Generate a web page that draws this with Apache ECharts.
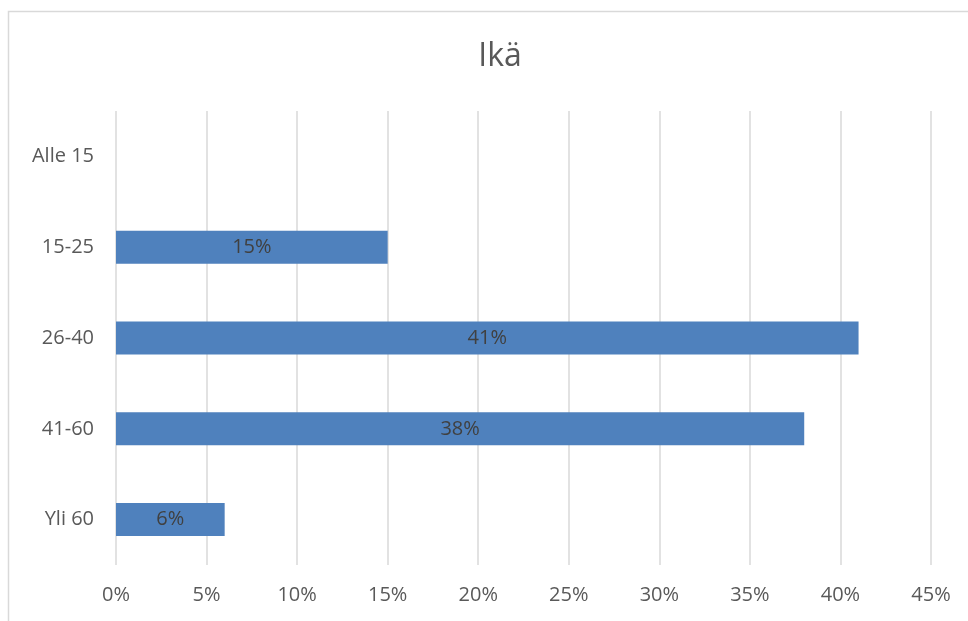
<!DOCTYPE html>
<html><head><meta charset="utf-8">
<script src="https://cdn.jsdelivr.net/npm/echarts@6/dist/echarts.min.js"></script>
<style>html,body{margin:0;padding:0;background:#fff}#c{width:968px;height:621px}</style>
</head><body><div id="c"></div>
<script>
const title = 'Ikä';
const categories = ['Alle 15', '15-25', '26-40', '41-60', 'Yli 60'];
const values = [0, 15, 41, 38, 6];
const xTicks = [0, 5, 10, 15, 20, 25, 30, 35, 40, 45];

const font = '"Open Sans", "Noto Sans", sans-serif';
const chart = echarts.init(document.getElementById('c'), null, {renderer: 'canvas'});
chart.setOption({
  animation: false,
  backgroundColor: '#fff',
  graphic: [{
    type: 'rect', silent: true,
    shape: {x: 8.5, y: 11.5, width: 1000, height: 700},
    style: {fill: 'none', stroke: '#d9d9d9', lineWidth: 1.5}
  }],
  title: {
    text: title, left: 495, top: 36, textAlign: 'center',
    textStyle: {fontFamily: font, fontSize: 32, fontWeight: 'normal', color: '#595959'}
  },
  grid: {left: 116, right: 37, top: 111, bottom: 56, containLabel: false},
  xAxis: {
    type: 'value', min: xTicks[0], max: xTicks[xTicks.length - 1], interval: 5,
    axisLine: {show: false}, axisTick: {show: false},
    splitLine: {lineStyle: {color: '#d9d9d9', width: 1.5}},
    axisLabel: {formatter: v => v + '%', fontFamily: font, fontSize: 20, color: '#595959', margin: 20}
  },
  yAxis: {
    type: 'category', data: categories, inverse: true,
    axisLine: {show: false}, axisTick: {show: false}, splitLine: {show: false},
    axisLabel: {fontFamily: font, fontSize: 20, color: '#595959', margin: 22}
  },
  series: [{
    type: 'bar', data: values, barWidth: 33,
    itemStyle: {color: '#4f81bd'},
    label: {
      show: true, position: 'inside',
      formatter: p => p.value ? p.value + '%' : '',
      fontFamily: font, fontSize: 20, color: '#404040'
    }
  }]
});
</script></body></html>
